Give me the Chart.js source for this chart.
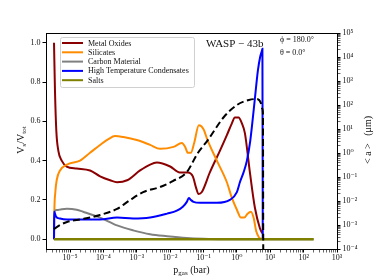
<!DOCTYPE html>
<html>
<head>
<meta charset="utf-8">
<script src="https://cdn.jsdelivr.net/npm/chart.js@4.4.0/dist/chart.umd.min.js"></script>
<style>
  html, body { margin: 0; padding: 0; background: #fff; }
  #wrap { width: 374px; height: 280px; }
</style>
</head>
<body>
<div id="wrap"><canvas id="chart1"></canvas></div>
<script>
// Volume fractions vs gas pressure (pressures as log10 of bar)
const oxidesLogP = [-5.48, -5.45, -5.41, -5.35, -5.25, -5.10, -4.80, -4.40, -4.10, -3.80, -3.59, -3.29, -2.90, -2.60, -2.40, -2.00, -1.71, -1.47, -1.32, -1.22, -1.15, -1.05, -0.81, -0.51, -0.30, -0.15, -0.06, 0.05, 0.15, 0.24, 0.39, 0.54, 0.69, 0.76];
const oxidesFrac = [1.00, 0.75, 0.55, 0.45, 0.40, 0.37, 0.36, 0.35, 0.32, 0.30, 0.29, 0.30, 0.35, 0.38, 0.39, 0.37, 0.34, 0.34, 0.32, 0.26, 0.23, 0.24, 0.34, 0.45, 0.53, 0.59, 0.62, 0.62, 0.59, 0.54, 0.34, 0.16, 0.056, 0.03];

const silicatesLogP = [-5.48, -5.47, -5.44, -5.40, -5.30, -5.09, -4.70, -4.40, -4.10, -3.85, -3.65, -3.40, -3.00, -2.60, -2.30, -1.90, -1.65, -1.55, -1.47, -1.38, -1.28, -1.14, -1.00, -0.88, -0.60, -0.30, -0.15, 0.00, 0.12, 0.22, 0.32, 0.42, 0.50, 0.58, 0.66, 0.76];
const silicatesFrac = [0.00, 0.14, 0.24, 0.30, 0.35, 0.38, 0.40, 0.44, 0.48, 0.51, 0.525, 0.52, 0.505, 0.48, 0.46, 0.47, 0.49, 0.47, 0.44, 0.44, 0.49, 0.58, 0.56, 0.505, 0.40, 0.29, 0.21, 0.15, 0.11, 0.11, 0.13, 0.14, 0.11, 0.04, 0.01, 0.00];

const carbonLogP = [-5.48, -5.47, -5.40, -5.25, -5.09, -4.80, -4.61, -4.10, -3.59, -3.11, -2.60, -2.09, -1.50, -1.00, -0.50, 0.78, 2.30];
const carbonFrac = [0.00, 0.14, 0.148, 0.153, 0.155, 0.15, 0.14, 0.11, 0.07, 0.045, 0.025, 0.015, 0.006, 0.002, 0.0, 0.0, 0.0];

const htcLogP = [-5.48, -5.475, -5.42, -5.30, -5.09, -4.61, -4.10, -3.59, -3.11, -2.60, -2.09, -1.80, -1.62, -1.50, -1.44, -1.38, -1.30, -1.10, -0.60, -0.21, 0.00, 0.09, 0.20, 0.30, 0.40, 0.48, 0.56, 0.63, 0.70, 0.75, 0.765, 0.775];
const htcFrac = [0.00, 0.14, 0.115, 0.105, 0.10, 0.10, 0.10, 0.11, 0.105, 0.11, 0.13, 0.145, 0.165, 0.19, 0.21, 0.20, 0.19, 0.185, 0.185, 0.20, 0.24, 0.29, 0.34, 0.40, 0.50, 0.62, 0.75, 0.86, 0.93, 0.96, 0.97, 0.0];

const saltsLogP = [-5.48, 2.30];
const saltsFrac = [0.0, 0.0];

// mean grain size <a> on the right axis (log10 of micron)
const sizeLogP = [-5.48, -5.30, -5.09, -4.61, -4.10, -3.59, -3.20, -2.81, -2.31, -1.92, -1.50, -1.17, -0.87, -0.39, 0.00, 0.36, 0.60, 0.72, 0.76, 0.78, 0.79];
const sizeLogA = [-3.17, -3.00, -2.875, -2.75, -2.58, -2.33, -1.96, -1.63, -1.42, -1.17, -0.79, 0.00, 0.54, 1.50, 2.00, 2.21, 2.25, 2.08, 1.85, 1.67, -4.00];

const fracTicks = [0.0, 0.2, 0.4, 0.6, 0.8, 1.0];
const pressureExps = [-6, -5, -4, -3, -2, -1, 0, 1, 2, 3];
const sizeExps = [-4, -3, -2, -1, 0, 1, 2, 3, 4, 5];

const SERIF = '"Liberation Serif", "DejaVu Serif", serif';

function toPoints(logP, vals, logY) {
    return logP.map((lp, i) => ({ x: Math.pow(10, lp), y: logY ? Math.pow(10, vals[i]) : vals[i] }));
}

function sup(n) {
    const map = { '-': '\u207B', '0': '\u2070', '1': '\u00B9', '2': '\u00B2', '3': '\u00B3', '4': '\u2074', '5': '\u2075', '6': '\u2076', '7': '\u2077', '8': '\u2078', '9': '\u2079' };
    return String(n).split('').map(c => map[c]).join('');
}

function logTicks(exps, lo, hi) {
    const ticks = [];
    exps.forEach(e => {
        for (let m = 1; m <= 9; m++) {
            const v = m * Math.pow(10, e);
            if (v >= lo * 0.999 && v <= hi * 1.001) ticks.push({ value: v, major: m === 1 });
        }
    });
    return ticks;
}

function powLabel(value, index, ticks) {
    if (!ticks[index].major) return '';
    return '10' + sup(Math.round(Math.log10(value)));
}

// text made of [string, isSubscript] pieces, centred on (x, y)
function drawParts(ctx, parts, x, y, size, angle) {
    ctx.save();
    ctx.translate(x, y);
    ctx.rotate(angle);
    ctx.fillStyle = '#111';
    ctx.textBaseline = 'alphabetic';
    let total = 0;
    parts.forEach(p => {
        ctx.font = (p[1] ? size * 0.7 : size) + 'px ' + SERIF;
        total += ctx.measureText(p[0]).width;
    });
    let cx = -total / 2;
    parts.forEach(p => {
        ctx.font = (p[1] ? size * 0.7 : size) + 'px ' + SERIF;
        ctx.fillText(p[0], cx, size * 0.35 + (p[1] ? size * 0.22 : 0));
        cx += ctx.measureText(p[0]).width;
    });
    ctx.restore();
}

const decorPlugin = {
    id: 'decor',
    afterDatasetsDraw(chart) {
        const ctx = chart.ctx;
        const a = chart.chartArea;

        // top frame line
        ctx.save();
        ctx.strokeStyle = '#000';
        ctx.lineWidth = 1;
        ctx.beginPath();
        ctx.moveTo(a.left, a.top + 0.5);
        ctx.lineTo(a.right, a.top + 0.5);
        ctx.stroke();
        ctx.restore();

        // legend
        const items = chart.data.datasets.filter(d => d.inLegend);
        ctx.save();
        ctx.fillStyle = 'rgba(255,255,255,0.8)';
        ctx.strokeStyle = '#d0d0d0';
        ctx.lineWidth = 1;
        ctx.beginPath();
        ctx.roundRect(60.5, 37.5, 134, 50, 2);
        ctx.fill();
        ctx.stroke();
        ctx.font = '8px ' + SERIF;
        ctx.textBaseline = 'middle';
        items.forEach((d, i) => {
            const y = 43 + i * 9.3;
            ctx.strokeStyle = d.borderColor;
            ctx.lineWidth = 2;
            ctx.beginPath();
            ctx.moveTo(62, y);
            ctx.lineTo(83, y);
            ctx.stroke();
            ctx.fillStyle = '#111';
            ctx.fillText(d.label, 88, y + 0.5);
        });
        ctx.restore();

        // annotations
        ctx.save();
        ctx.fillStyle = '#111';
        ctx.textBaseline = 'middle';
        ctx.font = '11px ' + SERIF;
        ctx.fillText('WASP \u2212 43b', 206, 44);
        ctx.font = '8px ' + SERIF;
        ctx.fillText('\u03D5 = 180.0\u00B0', 280, 40);
        ctx.fillText('\u03B8 = 0.0\u00B0', 280, 53);
        ctx.restore();

        // axis titles
        drawParts(ctx, [['p', false], ['gas', true], [' (bar)', false]], (a.left + a.right) / 2, 269, 10, 0);
        drawParts(ctx, [['V', false], ['s', true], ['/V', false], ['tot', true]], 20, 140, 10, -Math.PI / 2);
        drawParts(ctx, [['< a >   (\u03BCm)', false]], 367, 140, 10, -Math.PI / 2);
    }
};

const ctx1 = document.getElementById('chart1').getContext('2d');

const lineStyle = { pointRadius: 0, borderWidth: 2, fill: false, cubicInterpolationMode: 'monotone' };

new Chart(ctx1, {
    type: 'line',
    data: {
        datasets: [{
            ...lineStyle,
            label: 'Metal Oxides',
            data: toPoints(oxidesLogP, oxidesFrac),
            borderColor: '#8B0000',
            yAxisID: 'y',
            inLegend: true,
            order: 5
        }, {
            ...lineStyle,
            label: 'Silicates',
            data: toPoints(silicatesLogP, silicatesFrac),
            borderColor: '#FF8C00',
            yAxisID: 'y',
            inLegend: true,
            order: 4
        }, {
            ...lineStyle,
            label: 'Carbon Material',
            data: toPoints(carbonLogP, carbonFrac),
            borderColor: '#808080',
            yAxisID: 'y',
            inLegend: true,
            order: 3
        }, {
            ...lineStyle,
            label: 'High Temperature Condensates',
            data: toPoints(htcLogP, htcFrac),
            borderColor: '#0000FF',
            yAxisID: 'y',
            inLegend: true,
            order: 2
        }, {
            ...lineStyle,
            label: 'Salts',
            data: toPoints(saltsLogP, saltsFrac),
            borderColor: '#808000',
            borderWidth: 2.5,
            yAxisID: 'y',
            inLegend: true,
            order: 1
        }, {
            ...lineStyle,
            label: '<a>',
            data: toPoints(sizeLogP, sizeLogA, true),
            borderColor: '#000000',
            borderDash: [7, 3.5],
            yAxisID: 'y1',
            inLegend: false,
            order: 0
        }]
    },
    options: {
        responsive: true,
        maintainAspectRatio: false,
        animation: false,
        layout: { padding: { top: 33, left: 0, right: 0, bottom: 0 } },
        plugins: {
            legend: { display: false },
            tooltip: { enabled: false }
        },
        scales: {
            x: {
                type: 'logarithmic',
                position: 'bottom',
                min: Math.pow(10, -5.72),
                max: 1000,
                afterBuildTicks: axis => { axis.ticks = logTicks(pressureExps, axis.min, axis.max); },
                afterFit: axis => { axis.height = 31; },
                border: { color: '#000', width: 1 },
                grid: {
                    drawOnChartArea: false,
                    tickLength: 3.5,
                    tickColor: '#000',
                    tickWidth: c => (c.tick && c.tick.major ? 1 : 0.6)
                },
                ticks: {
                    autoSkip: false,
                    maxRotation: 0,
                    padding: 1,
                    color: '#111',
                    font: { family: SERIF, size: 8 },
                    callback: powLabel
                }
            },
            y: {
                type: 'linear',
                position: 'left',
                min: -0.05,
                max: 1.05,
                afterBuildTicks: axis => { axis.ticks = fracTicks.map(v => ({ value: v })); },
                afterFit: axis => { axis.width = 46; },
                border: { color: '#000', width: 1 },
                grid: { drawOnChartArea: false, tickLength: 3.5, tickColor: '#000' },
                ticks: {
                    padding: 2,
                    color: '#111',
                    font: { family: SERIF, size: 8 },
                    callback: v => v.toFixed(1)
                }
            },
            y1: {
                type: 'logarithmic',
                position: 'right',
                min: 1e-4,
                max: 1e5,
                afterBuildTicks: axis => { axis.ticks = logTicks(sizeExps, axis.min, axis.max); },
                afterFit: axis => { axis.width = 37; },
                border: { color: '#000', width: 1 },
                grid: {
                    drawOnChartArea: false,
                    tickLength: 3.5,
                    tickColor: '#000',
                    tickWidth: c => (c.tick && c.tick.major ? 1 : 0.6)
                },
                ticks: {
                    autoSkip: false,
                    padding: 2,
                    color: '#111',
                    font: { family: SERIF, size: 8 },
                    callback: powLabel
                }
            }
        }
    },
    plugins: [decorPlugin]
});
</script>
</body>
</html>
